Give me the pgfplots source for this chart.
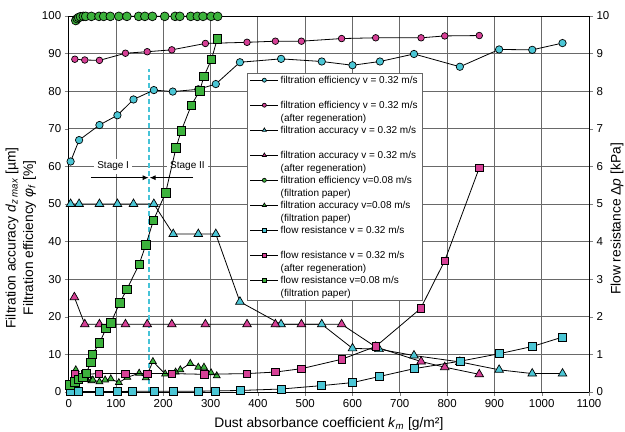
\documentclass[border=0pt]{standalone}
\usepackage{fontspec}
\setmainfont{Liberation Sans}
\usepackage{pgfplots}
\pgfplotsset{compat=1.18}
\usetikzlibrary{arrows.meta}
\definecolor{cy}{RGB}{75,198,213}
\definecolor{dashc}{RGB}{70,195,215}
\definecolor{mg}{RGB}{214,64,150}
\definecolor{gr}{RGB}{60,178,60}
\definecolor{gridc}{RGB}{105,105,105}
\newcommand{\titlefont}{\fontsize{13.8bp}{15.5bp}\selectfont}
\pgfplotsset{
  base/.style={
    scale only axis, width=520.3bp, height=376bp,
    xmin=0, xmax=1100, clip=false,
    tick align=outside, major tick length=4bp,
    /pgf/number format/assume math mode=true,
    /pgf/number format/1000 sep={},
    tick label style={font=\fontsize{11.5bp}{13bp}\selectfont},
    every axis plot/.append style={line width=0.8bp, black},
  },
  mk/.style={mark options={draw=black, line width=0.7bp, fill=#1, solid}},
}
\begin{document}
\begin{tikzpicture}[font=\fontsize{10bp}{12bp}\selectfont]
\begin{axis}[base,
  ymin=0, ymax=100, ytick distance=10, xtick distance=100,
  xtick pos=bottom, ytick pos=left,
  grid=major, grid style={gridc, line width=0.9bp},
  axis line style={line width=0.9bp},
]
% dashed stage line
\addplot[draw=dashc, line width=1.4bp, dash pattern=on 5bp off 3bp, forget plot] coordinates {(170,0) (170,86)};
% filtration efficiency 0.32
\addplot[mark=*, mark size=3.7bp, mk=cy] coordinates {
(4,61.3)(22,67)(65,71)(103,73.6)(137,77.8)(180,80.3)(220,79.9)(274,80.5)(311,81.9)(362,87.7)(449,88.6)(535,87.9)(600,86.9)(658,87.9)(730,89.9)(827,86.5)(910,91.1)(980,91.0)(1044,92.8)};
% filtration efficiency after regeneration
\addplot[mark=*, mark size=3.3bp, mk=mg] coordinates {
(13,88.5)(34,88.3)(65,88.2)(120,90.1)(166,90.5)(218,91.0)(289,92.7)(377,93.0)(437,93.3)(492,93.3)(577,94.0)(649,94.2)(745,94.2)(795,94.7)(868,94.8)};
% filtration accuracy 0.32
\addplot[mark=triangle*, mark size=5bp, mk=cy] coordinates {
(4,50)(22,50)(65,50)(103,50)(137,50)(180,50)(221,42)(274,42)(311,42)(362,24)(449,18)(535,18)(600,11.6)(656,11.4)(730,9.7)(827,8)(910,5.9)(980,4.9)(1044,4.9)};
% filtration accuracy after regeneration
\addplot[mark=triangle*, mark size=5bp, mk=mg] coordinates {
(12,25.2)(34,18)(65,18)(120,18)(166,18)(218,18)(289,18)(377,18)(437,18)(492,18)(577,18)(649,12)(745,8.1)(795,6.6)(868,4.7)};
% filtration efficiency 0.08
\addplot[mark=*, mark size=4.4bp, mk=gr] coordinates {
(15,98.8)(18,99.3)(21,99.6)(25,99.8)(31,99.9)(36,99.9)(48,99.9)(64,99.9)(74,99.9)(88,99.9)(106,99.9)(123,99.9)(148,99.9)(161,99.9)(177,99.9)(203,99.9)(225,99.9)(235,99.9)(258,99.9)(272,99.9)(284,99.9)(301,99.9)(315,99.9)};
% filtration accuracy 0.08
\addplot[mark=triangle*, mark size=4bp, mk=gr] coordinates {
(3,1.5)(15,5.9)(20,4.0)(25,3.5)(31,3.6)(37,3.3)(48,3.0)(51,3.2)(65,2.7)(77,3.2)(89,3.5)(106,2.5)(124,3.9)(149,5.0)(163,3.8)(178,8.1)(204,4.8)(226,5.3)(236,5.9)(257,7.6)(274,6.6)(286,6.6)(301,5.1)(313,4.3)};
% stage annotations
\node[fill=white, inner sep=3bp] at (axis cs:94,60) {Stage I};
\node[fill=white, inner sep=3bp] at (axis cs:251,60) {Stage II};
\draw[-{Latex[length=6bp,width=5bp]}, line width=0.9bp] (axis cs:47,57) -- (axis cs:169,57);
\draw[-{Latex[length=6bp,width=5bp]}, line width=0.9bp] (axis cs:263,57) -- (axis cs:171,57);
\node[rotate=90, font=\titlefont] at (axis description cs:-0.109,0.41) {Filtration accuracy \textit{d}\textsubscript{\textit{z max}} [µm]};
\node[rotate=90, font=\titlefont] at (axis description cs:-0.075,0.41) {Filtration efficiency \textit{φ}\textsubscript{\textit{f}} [\%]};
\node[font=\titlefont] at (axis description cs:0.5,-0.085) {Dust absorbance coefficient \textit{k}\textsubscript{\textit{m}} [g/m²]};
\end{axis}
\begin{axis}[base,
  ymin=0, ymax=10, ytick distance=1,
  axis x line=none, axis y line*=right, ytick pos=right,
  axis line style={line width=0.9bp},
  legend style={at={(rel axis cs:0.342,0.848)}, anchor=north west,
    draw=black!60, fill=white, line width=0.6bp,
    font=\fontsize{10bp}{12.3bp}\selectfont,
    cells={anchor=base west, align=left}, inner xsep=3bp, inner ysep=1bp, row sep=0bp},
  legend image code/.code={\draw[mark repeat=2, mark phase=2, line width=0.8bp] plot coordinates {(0bp,15.8bp) (14bp,15.8bp) (28bp,15.8bp)};},
]
\addlegendimage{black, mark=*, mark size=2bp, mk=cy}
\addlegendentry{filtration efficiency v = 0.32 m/s\\\mbox{}}
\addlegendimage{black, mark=*, mark size=2bp, mk=mg}
\addlegendentry{filtration efficiency v = 0.32 m/s\\(after regeneration)}
\addlegendimage{black, mark=triangle*, mark size=2.3bp, mk=cy}
\addlegendentry{filtration accuracy v = 0.32 m/s\\\mbox{}}
\addlegendimage{black, mark=triangle*, mark size=2.3bp, mk=mg}
\addlegendentry{filtration accuracy v = 0.32 m/s\\(after regeneration)}
\addlegendimage{black, mark=*, mark size=2bp, mk=gr}
\addlegendentry{filtration efficiency v=0.08 m/s\\(filtration paper)}
\addlegendimage{black, mark=triangle*, mark size=2.3bp, mk=gr}
\addlegendentry{filtration accuracy v=0.08 m/s\\(filtration paper)}
\addlegendimage{black, mark=square*, mark size=2bp, mk=cy}
\addlegendentry{flow resistance v = 0.32 m/s\\\mbox{}}
\addlegendimage{black, mark=square*, mark size=2bp, mk=mg}
\addlegendentry{flow resistance v = 0.32 m/s\\(after regeneration)}
\addlegendimage{black, mark=square*, mark size=2bp, mk=gr}
\addlegendentry{flow resistance v=0.08 m/s\\(filtration paper)}
% flow resistance 0.32
\addplot[mark=square*, mark size=4bp, mk=cy, forget plot] coordinates {
(3,0.01)(20,0.01)(65,0.01)(103,0.01)(135,0.02)(181,0.02)(221,0.02)(274,0.02)(311,0.03)(362,0.04)(450,0.08)(535,0.17)(600,0.25)(656,0.41)(730,0.62)(828,0.82)(911,1.02)(980,1.21)(1044,1.46)};
% flow resistance after regeneration
\addplot[mark=square*, mark size=3.7bp, mk=mg, forget plot] coordinates {
(13,0.47)(34,0.47)(64,0.49)(120,0.49)(166,0.49)(218,0.49)(287,0.47)(377,0.49)(437,0.53)(492,0.62)(577,0.87)(649,1.21)(744,2.22)(795,3.49)(868,5.96)};
% flow resistance 0.08
\addplot[mark=square*, mark size=4.3bp, mk=gr, forget plot] coordinates {
(2,0.19)(13,0.27)(20,0.34)(30,0.39)(37,0.50)(47,0.79)(50,1.00)(65,1.30)(79,1.69)(89,1.84)(108,2.37)(123,2.73)(149,3.40)(163,3.91)(179,4.56)(205,5.30)(227,6.50)(238,6.95)(259,7.62)(277,8.01)(286,8.40)(302,8.85)(314,9.39)};
\node[rotate=90, font=\titlefont] at (axis description cs:1.054,0.46) {Flow resistance Δ\textit{p} [kPa]};
\end{axis}
\pgfresetboundingbox
\path[use as bounding box] (-68.7bp,-40bp) rectangle (556.3bp,392bp);
\end{tikzpicture}
\end{document}
